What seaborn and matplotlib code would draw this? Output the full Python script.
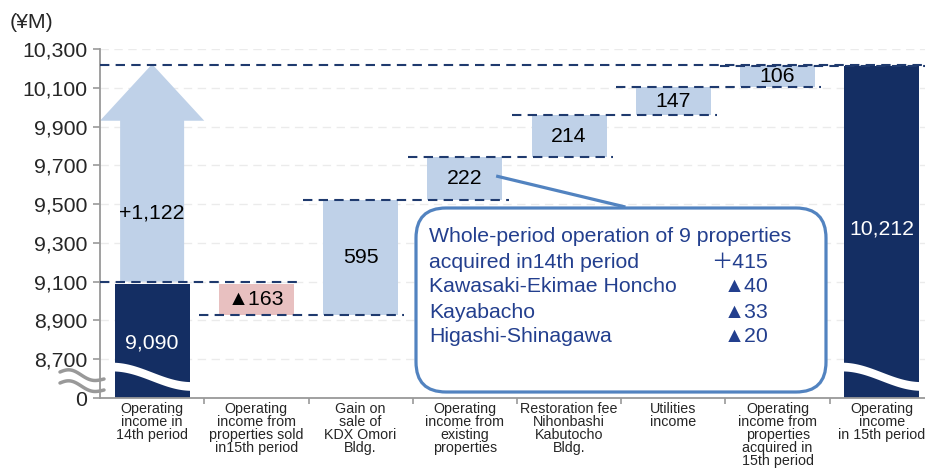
import numpy as np
import pandas as pd
import seaborn as sns
import matplotlib.pyplot as plt
from matplotlib.patches import Polygon, FancyBboxPatch
from matplotlib.transforms import IdentityTransform
from matplotlib.lines import Line2D

# ---------------- data ----------------
categories = [
    "Operating\nincome in\n14th period",
    "Operating\nincome from\nproperties sold\nin15th period",
    "Gain on\nsale of\nKDX Omori\nBldg.",
    "Operating\nincome from\nexisting\nproperties",
    "Restoration fee\nNihonbashi\nKabutocho\nBldg.",
    "Utilities\nincome",
    "Operating\nincome from\nproperties\nacquired in\n15th period",
    "Operating\nincome\nin 15th period",
]
start_value = 9090
deltas = [-163, 595, 222, 214, 147, 106]
end_value = 10212
start_label = "9,090"
end_label = "10,212"
delta_labels = ["▲163", "595", "222", "214", "147", "106"]
total_change_label = "+1,122"
axis_floor = 8500          # drawn position of the broken-axis "0"
ytick_values = [8500, 8700, 8900, 9100, 9300, 9500, 9700, 9900, 10100, 10300]
ytick_labels = ["0", "8,700", "8,900", "9,100", "9,300", "9,500", "9,700",
                "9,900", "10,100", "10,300"]
callout_names = ["Whole-period operation of 9 properties", "acquired in14th period",
                 "Kawasaki-Ekimae Honcho", "Kayabacho", "Higashi-Shinagawa"]
callout_values = ["", "＋415", "▲40", "▲33", "▲20"]

# ---------------- styling ----------------
NAVY = "#142e63"
LIGHT = "#bfd1e8"
PINK = "#e8c0c0"
DASH = "#1f3a6e"
CALLOUT = "#5283c0"
CTEXT = "#233f8e"
GRAY = "#999999"

sns.set_theme(style="white")
plt.rcParams["font.family"] = ["Liberation Sans", "DejaVu Sans"]

# waterfall geometry from data
levels = [start_value]
for d in deltas:
    levels.append(levels[-1] + d)
bottoms = [axis_floor]
heights = [start_value - axis_floor]
for i, d in enumerate(deltas):
    bottoms.append(min(levels[i], levels[i + 1]))
    heights.append(abs(d))
bottoms.append(axis_floor)
heights.append(end_value - axis_floor)
colors = [NAVY] + [PINK if d < 0 else LIGHT for d in deltas] + [NAVY]

df = pd.DataFrame({"cat": categories, "height": heights, "bottom": bottoms})

fig = plt.figure(figsize=(9.25, 4.72), dpi=100)
ax = fig.add_axes([100 / 925, 74 / 472, 834 / 925, 349 / 472])

W = 0.72
sns.barplot(data=df, x="cat", y="height", bottom=np.array(bottoms), width=W,
            errorbar=None, color=LIGHT, ax=ax, zorder=2, linewidth=0)
for p, c in zip(ax.patches, colors):
    p.set_facecolor(c)
    p.set_edgecolor("none")

ax.set_xlim(-0.5, 7.5)
ax.set_ylim(axis_floor, 10300)

# grid
for v in ytick_values[1:]:
    ax.axhline(v, color="#ebebeb", lw=1.0, ls=(0, (6, 4)), zorder=0)

# arrow for total change on the first column
head_base = 9930
shaft_hw, head_hw = 0.307, 0.5
arrow = Polygon([(-shaft_hw, 9100), (shaft_hw, 9100), (shaft_hw, head_base),
                 (head_hw, head_base), (0, end_value + 10), (-head_hw, head_base),
                 (-shaft_hw, head_base)], closed=True, facecolor=LIGHT,
                edgecolor="none", zorder=2)
ax.add_patch(arrow)

# dashed connectors
dash_style = (0, (4.5, 3))
ax.plot([-0.5, 1.42], [9100, 9100], color=DASH, lw=1.5, ls=dash_style, zorder=4)
for i in range(1, len(levels)):
    ax.plot([i - 0.55, i + 1.42], [levels[i], levels[i]], color=DASH, lw=1.5,
            ls=dash_style, zorder=4)
ax.plot([-0.5, 7.5], [end_value + 8, end_value + 8], color=DASH, lw=1.5,
        ls=dash_style, zorder=4)

# value labels
FS = 15.3
ax.text(0, 8785, start_label, ha="center", va="center", color="white", fontsize=FS, zorder=5)
ax.text(7, 9371, end_label, ha="center", va="center", color="white", fontsize=FS, zorder=5)
ax.text(0, 9454, total_change_label, ha="center", va="center", color="black", fontsize=FS, zorder=5)
for i, lab in enumerate(delta_labels):
    ax.text(i + 1, bottoms[i + 1] + heights[i + 1] / 2, lab, ha="center", va="center",
            color="black", fontsize=FS, zorder=5,
            family=["Liberation Sans", "DejaVu Sans"])

# broken-bar white waves
for i in (0, 7):
    t = np.linspace(0, 1, 60)
    xs = i - W / 2 - 0.02 + (W + 0.04) * t
    step = (1 - np.cos(np.pi * t)) / 2
    top = 8682 - 100 * step
    bot = top - 45
    poly = Polygon(np.column_stack([np.r_[xs, xs[::-1]], np.r_[top, bot[::-1]]]),
                   closed=True, facecolor="white", edgecolor="none", zorder=3)
    ax.add_patch(poly)

# axes styling
ax.set_xlabel("")
ax.set_ylabel("")
for s in ("top", "right"):
    ax.spines[s].set_visible(False)
for s in ("left", "bottom"):
    ax.spines[s].set_color(GRAY)
    ax.spines[s].set_linewidth(1.3)
ax.set_yticks(ytick_values)
ax.set_yticklabels(ytick_labels, fontsize=FS)
ax.tick_params(axis="y", length=5, color=GRAY, width=1.2, pad=4, left=True)
ax.set_xticks(range(len(categories)))
ax.set_xticklabels(categories, fontsize=10.3, linespacing=0.9,
                   family=["Liberation Sans Narrow", "Liberation Sans"])
ax.tick_params(axis="x", which="major", length=0, pad=3)
ax.set_xticks(np.arange(0.5, 7.5, 1), minor=True)
ax.tick_params(axis="x", which="minor", length=4, color=GRAY, width=1.2, bottom=True)

# unit label
fig.text(10 / 925, 1 - 22 / 472, "(¥M)", fontsize=FS, ha="left", va="center")

# axis break squiggles
for y0 in (372, 383):
    t = np.linspace(0, 1, 60)
    xs = 60 + 44 * t
    ys = y0 + 7 * t - 4 * np.sin(2 * np.pi * t) * (1 - t * 0.3)
    fig.add_artist(Line2D(xs, 472 - ys, transform=IdentityTransform(),
                          color=GRAY, lw=2.5, solid_capstyle="round"))

# callout box
box = FancyBboxPatch((416, 472 - 392), 410, 184,
                     boxstyle="round,pad=0,rounding_size=30",
                     transform=IdentityTransform(), facecolor="white",
                     edgecolor=CALLOUT, lw=2.3, zorder=6)
fig.add_artist(box)
ax.plot([3.3, 4.54], [9645, 9485], color=CALLOUT, lw=2.3, zorder=6,
        solid_capstyle="butt")
line_y = [236, 262, 287, 312, 337]
for name, val, yy in zip(callout_names, callout_values, line_y):
    fig.text(429 / 925, 1 - yy / 472, name, color=CTEXT, fontsize=FS,
             ha="left", va="center", zorder=7)
    if val:
        fig.text(768 / 925, 1 - yy / 472, val, color=CTEXT, fontsize=FS,
                 ha="right", va="center", zorder=7,
                 family=["Liberation Sans", "Noto Sans CJK JP", "DejaVu Sans"])

fig.savefig("out.png", dpi=100)
